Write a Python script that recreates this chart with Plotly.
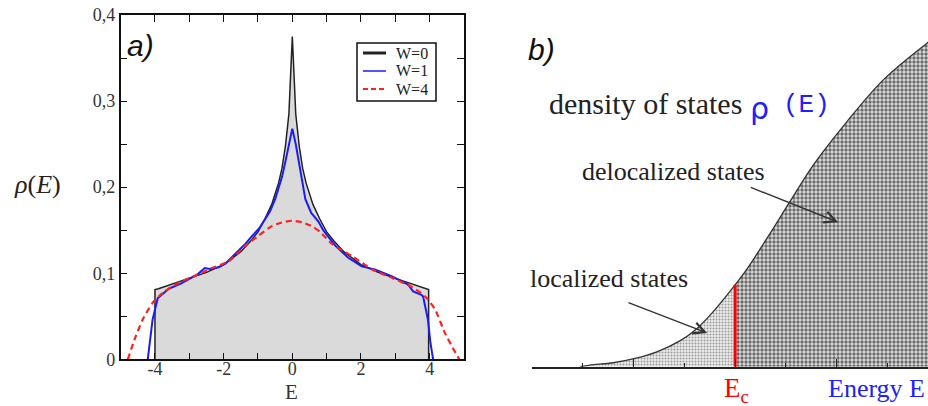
import plotly.graph_objects as go

# ---------------- Panel a data ----------------
E_w0 = [-4.0, -4.0, -3.9, -3.6, -3.3, -3.0, -2.5, -2.0, -1.5, -1.2, -1.0, -0.8, -0.6, -0.4, -0.3,
        -0.2, -0.1, -0.05, 0.0, 0.05, 0.1, 0.2, 0.3, 0.4, 0.6, 0.8, 1.0, 1.2, 1.5, 2.0, 2.5, 3.0,
        3.3, 3.6, 3.9, 3.97, 3.97]
rho_w0 = [0.0, 0.081, 0.082, 0.086, 0.090, 0.094, 0.101, 0.110, 0.125, 0.138, 0.148, 0.163, 0.180,
          0.205, 0.222, 0.248, 0.285, 0.330, 0.375, 0.330, 0.285, 0.248, 0.222, 0.205, 0.180, 0.163,
          0.148, 0.138, 0.125, 0.110, 0.101, 0.094, 0.090, 0.086, 0.082, 0.081, 0.0]

E_w1 = [-4.21, -4.14, -4.07, -3.92, -3.83, -3.6, -3.25, -3.0, -2.75, -2.55, -2.4, -2.15, -1.95,
        -1.6, -1.37, -1.2, -0.95, -0.79, -0.65, -0.5, -0.4, -0.3, -0.2, -0.1, 0.0, 0.1, 0.2, 0.3,
        0.38, 0.55, 0.76, 0.9, 1.25, 1.63, 2.02, 2.4, 2.89, 3.37, 3.52, 3.76, 3.81, 3.95, 4.02, 4.1]
rho_w1 = [0.0, 0.020, 0.046, 0.071, 0.074, 0.082, 0.088, 0.094, 0.099, 0.106, 0.105, 0.107, 0.111,
          0.125, 0.134, 0.142, 0.153, 0.163, 0.172, 0.186, 0.198, 0.212, 0.230, 0.250, 0.268, 0.250,
          0.228, 0.206, 0.186, 0.170, 0.160, 0.150, 0.132, 0.118, 0.108, 0.1045, 0.0966, 0.0869,
          0.079, 0.075, 0.073, 0.046, 0.020, 0.0]

E_w4 = [-4.79, -4.6, -4.36, -4.07, -3.78, -3.3, -2.82, -2.34, -1.85, -1.37, -1.0, -0.59, -0.3, 0.0,
        0.3, 0.6, 0.81, 1.16, 1.74, 2.32, 2.9, 3.48, 3.87, 4.16, 4.45, 4.86]
rho_w4 = [0.0, 0.0226, 0.046, 0.0655, 0.077, 0.089, 0.0974, 0.106, 0.114, 0.132, 0.143, 0.155, 0.159,
          0.161, 0.159, 0.154, 0.148, 0.134, 0.120, 0.1045, 0.0947, 0.084, 0.073, 0.0577, 0.030, 0.0]

series_names = ["W=0", "W=1", "W=4"]

xa_tickvals = [-4, -3, -2, -1, 0, 1, 2, 3, 4]
xa_ticktext = ["-4", "", "-2", "", "0", "", "2", "", "4"]
ya_tickvals = [0, 0.05, 0.1, 0.15, 0.2, 0.25, 0.3, 0.35, 0.4]
ya_ticktext = ["0", "", "0,1", "", "0,2", "", "0,3", "", "0,4"]

# ---------------- Panel b data (schematic curve) ----------------
E_b = [0.95, 1.14, 1.60, 2.03, 2.46, 2.92, 3.25, 3.57, 4.0, 4.23, 4.69, 5.08, 5.54, 6.20, 6.92, 7.78, 7.95]
rho_b = [0.0, 0.005, 0.012, 0.025, 0.045, 0.079, 0.116, 0.167, 0.248, 0.295, 0.404, 0.500, 0.611,
         0.742, 0.869, 0.980, 1.0]
E_c = 4.0
rho_Ec = rho_b[E_b.index(E_c)]

loc_E = [e for e in E_b if e <= E_c]
loc_rho = [r for e, r in zip(E_b, rho_b) if e <= E_c]
deloc_E = [e for e in E_b if e >= E_c]
deloc_rho = [r for e, r in zip(E_b, rho_b) if e >= E_c]

# arrows: (tail_x, tail_y, tip_x, tip_y) in panel b data units
arrow_loc = [1.87, 0.196, 3.45, 0.102]
arrow_deloc = [4.28, 0.545, 6.03, 0.438]

SERIF = "Liberation Serif"
W, H = 928, 406
C_W0, C_W1, C_W4 = "#222222", "#1a1aff", "#ff2020"

fig = go.Figure()

# ---- panel a traces
fig.add_trace(go.Scatter(x=E_w0, y=rho_w0, mode="lines", fill="tozeroy", fillcolor="#dadada",
                         line=dict(color="rgba(0,0,0,0)", width=0), showlegend=False,
                         xaxis="x", yaxis="y", hoverinfo="skip"))
fig.add_trace(go.Scatter(x=E_w0, y=rho_w0, mode="lines", name=series_names[0], showlegend=False,
                         line=dict(color=C_W0, width=1.5), xaxis="x", yaxis="y"))
fig.add_trace(go.Scatter(x=E_w1, y=rho_w1, mode="lines", name=series_names[1], showlegend=False,
                         line=dict(color=C_W1, width=2), xaxis="x", yaxis="y"))
fig.add_trace(go.Scatter(x=E_w4, y=rho_w4, mode="lines", name=series_names[2], showlegend=False,
                         line=dict(color=C_W4, width=2.2, dash="6px,4px", shape="spline",
                                   smoothing=0.6), xaxis="x", yaxis="y"))

# ---- panel b traces
fig.add_trace(go.Scatter(x=loc_E, y=loc_rho, mode="lines", fill="tozeroy", fillcolor="#e4e4e4",
                         fillpattern=dict(shape=".", size=3, solidity=0.35, fgcolor="#9a9a9a",
                                          bgcolor="#ececec", fillmode="replace"),
                         line=dict(width=0, shape="spline", color="rgba(0,0,0,0)"),
                         showlegend=False, xaxis="x2", yaxis="y2", hoverinfo="skip"))
fig.add_trace(go.Scatter(x=deloc_E, y=deloc_rho, mode="lines", fill="tozeroy", fillcolor="#a8a8a8",
                         fillpattern=dict(shape=".", size=4, solidity=0.55, fgcolor="#6a6a6a",
                                          bgcolor="#e0e0e0", fillmode="replace"),
                         line=dict(width=0, shape="spline", color="rgba(0,0,0,0)"),
                         showlegend=False, xaxis="x2", yaxis="y2", hoverinfo="skip"))
fig.add_trace(go.Scatter(x=E_b, y=rho_b, mode="lines", line=dict(color="#333333", width=1.3,
                         shape="spline"), showlegend=False, xaxis="x2", yaxis="y2"))
fig.add_trace(go.Scatter(x=[E_c, E_c], y=[0, rho_Ec], mode="lines",
                         line=dict(color="#ff0000", width=3), showlegend=False,
                         xaxis="x2", yaxis="y2"))

axis_a = dict(showline=True, linecolor="#111", linewidth=1.5, mirror="ticks", ticks="inside",
              ticklen=7, tickwidth=1.3, tickcolor="#111", showgrid=False, zeroline=False,
              automargin=False, tickfont=dict(family=SERIF, size=18, color="#333"))

fig.update_layout(
    width=W, height=H, autosize=False,
    margin=dict(l=0, r=0, t=0, b=0, pad=0),
    paper_bgcolor="white", plot_bgcolor="white",
    xaxis=dict(domain=[0.130, 0.500], range=[-5, 5], tickvals=xa_tickvals, ticktext=xa_ticktext,
               anchor="y", ticklabelstandoff=-8, **axis_a),
    yaxis=dict(domain=[0.115, 0.963], range=[0, 0.4], tickvals=ya_tickvals, ticktext=ya_ticktext,
               anchor="x", **axis_a),
    xaxis2=dict(domain=[0.5733, 1.0], range=[0, 7.80], anchor="y2", showline=True,
                linecolor="#222", linewidth=1.5, ticks="inside", ticklen=8, tickwidth=1.3,
                tickcolor="#222", tickvals=[0, 2, 4, 6], showticklabels=False, showgrid=False,
                zeroline=False, automargin=False,
                minor=dict(dtick=1, tick0=0, ticks="inside", ticklen=4, tickwidth=1.2,
                           tickcolor="#222", showgrid=False)),
    yaxis2=dict(domain=[0.0968, 1.0], range=[0, 1.111], anchor="x2", visible=False,
                automargin=False),
    showlegend=False,
)

def px(x):
    return x / W

def py(y):
    return 1 - y / H

ann = []
def text(x_px, y_px, s, size, color="#222", family=SERIF, xanchor="center", yanchor="middle",
         height=None):
    d = dict(x=px(x_px), y=py(y_px), xref="paper", yref="paper", text=s,
             showarrow=False, xanchor=xanchor, yanchor=yanchor,
             font=dict(family=family, size=size, color=color))
    if height:
        d["height"] = height
    ann.append(d)

text(140, 45, "<i>a)</i>", 30, "#111", "Liberation Sans")
text(541, 49, "<i>b)</i>", 30, "#111", "Liberation Sans")
text(37, 184, "<i>ρ</i>(<i>E</i>)", 26, "#222")
text(291, 392, "E", 21, "#333")
text(547, 103, "density of states", 30, "#222", xanchor="left")
text(759, 108, "ρ", 30, "#2020ff", "DejaVu Sans")
text(806, 105, "(E)", 26, "#2020ff", "Liberation Mono")
text(580, 172, "delocalized states", 26, "#222", xanchor="left")
text(528, 278, "localized states", 26, "#222", xanchor="left")
text(826, 388, "Energy E", 26, "#2020ff", xanchor="left")
text(736, 390, "E<sub>c</sub>", 27, "#ff0000")

# ---- legend box (drawn in paper space)
shapes = [dict(type="rect", xref="paper", yref="paper", x0=px(357), x1=px(436), y0=py(101),
               y1=py(43), line=dict(color="#111", width=1.5), fillcolor="white", layer="above")]
legend_styles = [(C_W0, 3, "solid"), (C_W1, 1.5, "solid"), (C_W4, 2, "dash")]
for i, (name, (col, wd, dsh)) in enumerate(zip(series_names, legend_styles)):
    yy = 53 + 18 * i
    shapes.append(dict(type="line", xref="paper", yref="paper", x0=px(363), x1=px(386),
                       y0=py(yy), y1=py(yy), line=dict(color=col, width=wd,
                       dash="5px,3px" if dsh == "dash" else "solid"), layer="above"))
    text(394, yy, name, 16, "#222", xanchor="left", height=17)

fig.update_layout(annotations=ann, shapes=shapes)

for tx, ty, hx, hy in [arrow_loc, arrow_deloc]:
    fig.add_annotation(x=hx, y=hy, xref="x2", yref="y2", ax=tx, ay=ty, axref="x2", ayref="y2",
                       text="", showarrow=True, arrowhead=5, arrowsize=1.6, arrowwidth=1.4,
                       arrowcolor="#333")

fig.write_html("out.html", config={"displayModeBar": False},
               post_script="document.body.style.margin='0';")
